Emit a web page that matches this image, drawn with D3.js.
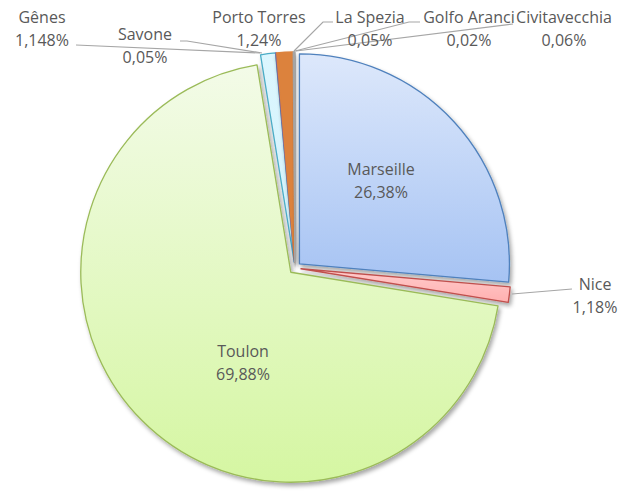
<!DOCTYPE html>
<html>
<head>
<meta charset="utf-8">
<script src="https://cdn.jsdelivr.net/npm/d3@7"></script>
<style>
 body { margin: 0; background: #fff; }
 text { font-family: "Open Sans", Lato, sans-serif; font-size: 16px; fill: #595959; }
</style>
</head>
<body>
<script>
const width = 632;
const height = 495;

// data
const ports = ["Marseille", "Nice", "Toulon", "Gênes", "Savone", "Porto Torres", "La Spezia", "Golfo Aranci", "Civitavecchia"];
const shares = [26.38, 1.18, 69.88, 1.148, 0.05, 1.24, 0.05, 0.02, 0.06];

// look of each slice
const fillTop = ["#dde8fb", "#ffcccc", "#f3fbe8", "#dcf6fe", "#e6ddf0", "#dc823d", "#c8c8c8", "#c8c8c8", "#c8c8c8"];
const fillBot = ["#a6c3f3", "#ffb0b0", "#d5f6a2", "#d2f2fc", "#d9cce8", "#dc823d", "#c8c8c8", "#c8c8c8", "#c8c8c8"];
const strokes = ["#4f81bd", "#c0504d", "#9bbb59", "#4bacc6", "#8064a2", "#dc823d", "#a5a5a5", "#a5a5a5", "#a5a5a5"];

// label layout: [x, y of first line, leader points]
const labelPos = {
  "Marseille": [381, 175, null],
  "Nice": [595, 290, [[512, 294], [572, 289]]],
  "Toulon": [243, 357, null],
  "Gênes": [42, 23, [[76, 45], [260, 53]]],
  "Savone": [145, 40, [[180, 41], [187, 41], [262, 53]]],
  "Porto Torres": [259, 23, null],
  "La Spezia": [370, 23, [[294, 51], [323, 22], [333, 22]]],
  "Golfo Aranci": [469, 23, [[295, 51], [409, 22], [420, 22]]],
  "Civitavecchia": [564, 23, [[296, 51], [513, 24]]]
};

const cx = 295, cy = 268, radius = 210, explode = 6;

var svg = d3.select("body")
    .append("svg")
    .attr("width", width)
    .attr("height", height);

var defs = svg.append("defs");

var shadow = defs.append("filter")
    .attr("id", "shadow")
    .attr("x", "-20%").attr("y", "-20%")
    .attr("width", "140%").attr("height", "140%");
shadow.append("feDropShadow")
    .attr("dx", 2).attr("dy", 3)
    .attr("stdDeviation", 2)
    .attr("flood-color", "#000")
    .attr("flood-opacity", 0.35);

ports.forEach(function(p, i) {
  var g = defs.append("linearGradient")
      .attr("id", "grad" + i)
      .attr("x1", 0).attr("y1", 0).attr("x2", 0).attr("y2", 1);
  g.append("stop").attr("offset", "0%").attr("stop-color", fillTop[i]);
  g.append("stop").attr("offset", "100%").attr("stop-color", fillBot[i]);
});

const data = ports.map((p, i) => ({ name: p, value: shares[i], idx: i }));

const pie = d3.pie()
    .sort(null)
    .value(d => d.value);

const arc = d3.arc()
    .innerRadius(0)
    .outerRadius(radius);

const arcs = pie(data);

var chart = svg.append("g")
    .attr("transform", "translate(" + cx + "," + cy + ")");

chart.selectAll("path")
  .data(arcs)
  .enter()
  .append("path")
  .attr("d", arc)
  .attr("transform", function(d) {
    const mid = (d.startAngle + d.endAngle) / 2;
    return "translate(" + (Math.sin(mid) * explode) + "," + (-Math.cos(mid) * explode) + ")";
  })
  .attr("fill", d => "url(#grad" + d.data.idx + ")")
  .attr("stroke", d => strokes[d.data.idx])
  .attr("stroke-width", 1.3)
  .attr("stroke-linejoin", "round")
  .attr("filter", "url(#shadow)");

// leader lines
var line = d3.line();
svg.selectAll("path.leader")
  .data(ports.filter(p => labelPos[p][2]))
  .enter()
  .append("path")
  .attr("class", "leader")
  .attr("d", p => line(labelPos[p][2]))
  .attr("fill", "none")
  .attr("stroke", "#a6a6a6")
  .attr("stroke-width", 1.2);

// labels
var labels = svg.selectAll("text.lbl")
  .data(data)
  .enter()
  .append("text")
  .attr("class", "lbl")
  .attr("text-anchor", "middle")
  .attr("x", d => labelPos[d.name][0])
  .attr("y", d => labelPos[d.name][1]);

labels.append("tspan")
  .attr("x", d => labelPos[d.name][0])
  .text(d => d.name);
labels.append("tspan")
  .attr("x", d => labelPos[d.name][0])
  .attr("dy", 23)
  .text(d => String(d.value).replace(".", ",") + "%");
</script>
</body>
</html>
